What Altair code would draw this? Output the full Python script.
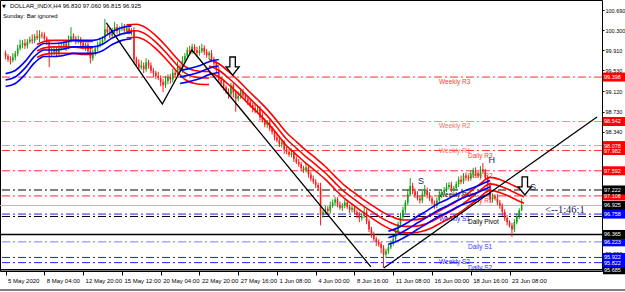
import altair as alt
import pandas as pd

# ---------------- data ----------------
first_open = 99.86
closes = [
    99.80, 99.74, 99.72, 99.78, 99.85, 99.95, 100.02, 100.05, 100.00, 100.08,
    100.12, 100.10, 100.18, 100.15, 100.22, 100.20, 100.14, 100.08, 99.84, 99.88,
    99.93, 99.86, 99.95, 100.00, 100.04, 99.98, 100.10, 100.18, 100.14, 100.08,
    100.12, 100.05, 99.98, 100.02, 99.90, 99.76, 99.85, 99.95, 100.02, 100.06,
    100.12, 100.32, 100.26, 100.20, 100.30, 100.36, 100.28, 100.32, 100.36, 100.30,
    100.34, 100.26, 100.30, 99.74, 99.66, 99.58, 99.62, 99.55, 99.68, 99.62,
    99.52, 99.48, 99.42, 99.38, 99.30, 99.24, 99.32, 99.40, 99.35, 99.48,
    99.44, 99.58, 99.54, 99.72, 99.80, 99.92, 99.88, 99.98, 99.92, 99.86,
    99.90, 99.96, 99.88, 99.82, 99.86, 99.74, 99.66, 99.54, 99.34, 99.28,
    99.20, 99.12, 99.06, 99.24, 99.10, 98.98, 99.04, 99.12, 99.05, 98.98,
    98.92, 98.86, 98.80, 98.74, 98.78, 98.62, 98.56, 98.48, 98.52, 98.40,
    98.34, 98.24, 98.18, 98.10, 98.14, 98.00, 97.96, 97.90, 97.94, 97.82,
    97.76, 97.72, 97.64, 97.60, 97.66, 97.52, 97.44, 97.38, 97.32, 97.26,
    96.74, 96.80, 96.86, 96.82, 96.92, 96.98, 97.04, 96.94, 96.88, 96.92,
    96.98, 96.90, 96.84, 96.88, 96.80, 96.74, 96.68, 96.72, 96.80, 96.62,
    96.46, 96.36, 96.28, 96.22, 96.18, 96.10, 95.98, 96.04, 96.12, 96.20,
    96.28, 96.42, 96.56, 96.70, 96.84, 96.98, 97.14, 97.30, 97.20, 97.12,
    97.06, 97.02, 97.14, 97.22, 97.12, 97.06, 96.98, 96.92, 97.02, 97.12,
    97.18, 97.22, 97.28, 97.32, 97.24, 97.26, 97.34, 97.42, 97.38, 97.50,
    97.46, 97.44, 97.52, 97.60, 97.54, 97.50, 97.62, 97.58, 97.46, 97.32,
    97.04, 97.10, 97.06, 96.98, 96.92, 96.80, 96.68, 96.60, 96.54, 96.46,
    96.60, 96.72, 96.83, 96.925]

upper_wick = [
    .05, .04, .06, .08, .05, .07, .10, .06, .08, .05,
    .06, .10, .05, .12, .08, .05, .06, .04, .05, .08,
    .06, .05, .09, .05, .07, .06, .10, .18, .06, .05,
    .08, .05, .06, .04, .05, .06, .08, .05, .06, .10,
    .06, .20, .06, .08, .05, .10, .06, .05, .08, .06,
    .05, .06, .04, .06, .05, .08, .10, .06, .08, .05,
    .06, .05, .04, .08, .05, .06, .10, .05, .06, .08,
    .05, .12, .06, .08, .06, .05, .08, .06, .05, .06,
    .10, .08, .05, .06, .04, .06, .05, .04, .05, .06,
    .05, .04, .06, .05, .04, .05, .08, .06, .05, .04,
    .06, .05, .04, .08, .05, .06, .10, .04, .05, .06,
    .05, .04, .06, .08, .05, .04, .06, .05, .08, .04,
    .05, .06, .04, .05, .08, .04, .05, .06, .05, .04,
    .10, .04, .06, .05, .08, .06, .05, .04, .06, .05,
    .06, .05, .04, .08, .05, .04, .06, .05, .10, .05,
    .04, .05, .06, .04, .05, .04, .06, .05, .06, .05,
    .04, .06, .05, .08, .06, .05, .10, .15, .06, .05,
    .08, .05, .06, .10, .05, .06, .05, .04, .06, .08,
    .05, .06, .08, .05, .06, .04, .05, .06, .08, .05,
    .06, .05, .08, .05, .06, .04, .06, .12, .05, .04,
    .05, .06, .04, .08, .05, .04, .05, .06, .04, .05,
    .06, .05, .04, .135]

lower_wick = [
    .06, .05, .08, .04, .06, .05, .04, .07, .06, .05,
    .04, .06, .05, .04, .08, .06, .05, .06, .25, .05,
    .06, .08, .05, .04, .06, .08, .05, .04, .06, .05,
    .04, .06, .05, .08, .06, .10, .05, .04, .06, .05,
    .05, .04, .06, .05, .04, .06, .05, .08, .04, .06,
    .05, .04, .06, .08, .06, .05, .04, .08, .05, .06,
    .05, .08, .06, .04, .08, .13, .05, .06, .08, .05,
    .06, .04, .05, .06, .04, .05, .06, .04, .05, .06,
    .05, .04, .06, .05, .08, .04, .06, .05, .06, .08,
    .06, .05, .08, .04, .10, .25, .05, .06, .04, .05,
    .06, .05, .08, .04, .05, .06, .04, .05, .06, .04,
    .05, .06, .04, .05, .06, .08, .05, .04, .05, .06,
    .04, .05, .06, .05, .04, .06, .05, .04, .06, .05,
    .20, .05, .04, .06, .05, .04, .06, .05, .04, .06,
    .05, .04, .06, .05, .04, .06, .08, .05, .04, .06,
    .05, .06, .04, .08, .05, .10, .26, .06, .05, .04,
    .05, .04, .06, .05, .04, .06, .05, .04, .06, .05,
    .04, .06, .05, .04, .06, .05, .04, .06, .05, .04,
    .05, .06, .04, .05, .06, .05, .04, .06, .05, .04,
    .06, .05, .04, .06, .05, .04, .06, .05, .04, .06,
    .05, .06, .04, .05, .06, .08, .05, .06, .04, .14,
    .05, .04, .06, .015]

# envelope (moving-average band) middle lines, sampled along the bars
band_half_width = 0.125
blue1_bars = [0, 4, 8, 12, 16, 20, 24, 28, 32, 36, 40, 44, 48, 52]
blue1_mid = [99.34, 99.40, 99.57, 99.80, 99.92, 99.92, 99.94, 99.98, 99.98, 99.98, 100.03, 100.15, 100.23, 100.26]
red0_bars = [13, 16, 20, 24, 28, 32, 36]
red0_mid = [99.90, 99.96, 99.98, 99.98, 99.98, 99.96, 99.96]
red1_bars = [50, 54, 58, 62, 66, 70, 74, 78, 82, 84]
red1_mid = [100.28, 100.29, 100.22, 100.07, 99.88, 99.67, 99.48, 99.40, 99.38, 99.38]
blue2_bars = [72, 76, 80, 84, 88]
blue2_mid = [99.40, 99.44, 99.49, 99.57, 99.61]
red2_bars = [84, 88, 92, 96, 100, 104, 108, 112, 116, 120, 124, 128, 132, 136, 140, 144, 148,
             152, 156, 160, 164, 168, 172, 176, 180, 184, 188, 192, 196, 200, 204, 208, 212, 214]
red2_mid = [99.61, 99.53, 99.38, 99.21, 99.02, 98.84, 98.65, 98.43, 98.20, 98.03, 97.86, 97.71, 97.55,
            97.36, 97.18, 97.04, 96.90, 96.78, 96.66, 96.57, 96.52, 96.52, 96.55, 96.62, 96.72, 96.82,
            96.93, 97.07, 97.22, 97.34, 97.30, 97.22, 97.13, 97.09]
blue3_bars = [158, 162, 166, 170, 174, 178, 182, 186, 190, 194, 198, 200]
blue3_mid = [96.30, 96.37, 96.47, 96.59, 96.70, 96.82, 96.91, 97.01, 97.09, 97.16, 97.24, 97.28]

# zigzag / trend lines
zig1_bars = [41.6, 64.7, 76.9, 150.8]
zig1_price = [100.44, 98.88, 99.92, 95.74]
zig2_bars = [156.1, 244.1]
zig2_price = [95.72, 98.63]

# pivot levels
level_names = ["Weekly R3", "Weekly R2", "Weekly R1", "Daily R3", "Daily R2", "Weekly Pivot",
               "Daily R1", "Weekly S1", "Daily Pivot", "Daily S1", "Weekly S2", "Daily S2"]
level_prices = [99.398, 98.542, 98.078, 97.982, 97.592, 97.222, 97.108, 96.758, 96.711, 96.223, 95.922, 95.822]
level_kind = ["R", "Rw", "Rw", "R", "R", "P", "R", "S", "P", "Sw", "S", "S"]

solid_prices = [96.365, 95.685]
bid_price = 96.925

box_prices = [99.398, 98.542, 98.078, 97.982, 97.592, 97.222, 97.108, 96.925, 96.758, 96.365, 96.223, 95.922, 95.822, 95.685]
box_kind = ["R", "R", "R", "R", "R", "P", "R", "P", "S", "P", "S", "S", "S", "P"]

price_ticks = [100.690, 100.300, 99.910, 99.530, 99.120, 98.730, 98.340, 97.950, 97.560, 97.170,
               96.780, 96.390, 95.990, 95.590]
tick_bars = [0, 16, 32, 48, 64, 80, 96, 112, 128, 144, 160, 176, 192, 208]
tick_labels = ["5 May 2020", "8 May 04:00", "12 May 20:00", "15 May 12:00", "20 May 04:00",
               "22 May 20:00", "27 May 16:00", "1 Jun 08:00", "4 Jun 00:00", "8 Jun 16:00",
               "11 Jun 08:00", "16 Jun 00:00", "18 Jun 16:00", "23 Jun 08:00"]

pattern_text = ["S", "H", "S"]
pattern_bars = [171.5, 200.7, 217.7]
pattern_price = [97.39, 97.80, 97.28]

arrow_bars = [93.7, 214.3]
arrow_price = [99.61, 97.30]

header_line1 = "DOLLAR_INDX,H4  96.830 97.060 96.815 96.925"
header_line2 = "Sunday: Bar ignored"
timer_text = "<--1:46:1"
timer_price = 96.84

# ---------------- tables ----------------
n = len(closes)
assert len(upper_wick) == n and len(lower_wick) == n
opens = [first_open] + closes[:-1]
candles = pd.DataFrame({
    "bar": list(range(n)),
    "open": opens,
    "close": closes,
})
candles["high"] = [max(o, c) + w for o, c, w in zip(opens, closes, upper_wick)]
candles["low"] = [min(o, c) - w for o, c, w in zip(opens, closes, lower_wick)]
candles["dir"] = ["up" if c >= o else "down" for o, c in zip(opens, closes)]

env_rows = []
for seg, col, bars, mids in [("r0", "red", red0_bars, red0_mid), ("r1", "red", red1_bars, red1_mid),
                             ("r2", "red", red2_bars, red2_mid), ("b1", "blue", blue1_bars, blue1_mid),
                             ("b2", "blue", blue2_bars, blue2_mid), ("b3", "blue", blue3_bars, blue3_mid)]:
    for b, m in zip(bars, mids):
        for k, off in [("u", band_half_width), ("m", 0.0), ("l", -band_half_width)]:
            env_rows.append({"bar": b, "price": m + off, "line": seg + k, "col": col})
env = pd.DataFrame(env_rows)

zig = pd.DataFrame({"bar": zig1_bars + zig2_bars, "price": zig1_price + zig2_price,
                    "seg": ["a"] * len(zig1_bars) + ["b"] * len(zig2_bars)})

levels = pd.DataFrame({"name": level_names, "price": level_prices, "kind": level_kind})
levels["weekly"] = levels["name"].str.startswith("Weekly")

boxes = pd.DataFrame({"price": box_prices, "kind": box_kind})
boxes["label"] = [f"{p:.3f}" for p in box_prices]
boxes = boxes.sort_values("price").reset_index(drop=True)

patterns = pd.DataFrame({"bar": pattern_bars, "price": pattern_price, "t": pattern_text})
arrows = pd.DataFrame({"bar": arrow_bars, "price": arrow_price})

# ---------------- encodings ----------------
FONT = "Liberation Sans"
xs = alt.Scale(domain=[-0.24, 244.1], nice=False, zero=False)
ys = alt.Scale(domain=[95.661, 100.883], nice=False, zero=False)

label_expr = ("[" + ",".join(f"'{t}'" for t in tick_labels) + "][indexof(["
              + ",".join(str(b) for b in tick_bars) + "], datum.value)]")
x_axis = alt.Axis(orient="bottom", values=tick_bars, labelExpr=label_expr, labelAlign="left",
                  labelOffset=2, tickSize=4, tickColor="black", labelPadding=2, labelFont=FONT,
                  labelFontSize=6, labelColor="black", domain=False, grid=False, labelOverlap=False,
                  labelBound=False, labelFlush=False, title=None)
y_axis = alt.Axis(orient="right", values=price_ticks, format=".3f", labelFont=FONT, labelFontSize=5.5,
                  labelColor="black", tickColor="black", tickSize=2, labelPadding=1, domain=False,
                  grid=False, labelBound=False, labelOverlap=False, labelFlush=False, title=None)


def X(f="bar"):
    return alt.X(f"{f}:Q", scale=xs, axis=x_axis)


def Y(f="price"):
    return alt.Y(f"{f}:Q", scale=ys, axis=y_axis)


LINE_COLORS = {"R": "#ff2a2a", "Rw": "#ff8c8c", "P": "#000000", "S": "#2020ff", "Sw": "#7a7aff"}
TEXT_COLORS = {"R": "#ff3a3a", "Rw": "#ff6a6a", "P": "#000000", "S": "#2828ff", "Sw": "#3c3cff"}
BOX_COLORS = {"R": "#ff0000", "P": "#000000", "S": "#0000ff"}
BAND_COLORS = {"red": "#ff0000", "blue": "#0000ff"}
CANDLE_COLORS = {"up": "#16a016", "down": "#ff1a1a"}

levels["lc"] = levels["kind"].map(LINE_COLORS)
levels["tc"] = levels["kind"].map(TEXT_COLORS)
boxes["bc"] = boxes["kind"].map(BOX_COLORS)
env["c"] = env["col"].map(BAND_COLORS)
candles["c"] = candles["dir"].map(CANDLE_COLORS)

# ---------------- layers ----------------
level_lines = alt.Chart(levels).mark_rule(strokeWidth=1, strokeDash=[8, 3, 2, 3]).encode(
    y=Y("price"), color=alt.Color("lc:N", scale=None))

solid_lines = alt.Chart(pd.DataFrame({"price": solid_prices})).mark_rule(
    strokeWidth=1.6, color="black").encode(y=Y("price"))

bid_line = alt.Chart(pd.DataFrame({"price": [bid_price]})).mark_rule(
    strokeWidth=1, color="#b8b8b8").encode(y=Y("price"))

level_text_w = alt.Chart(levels).transform_filter("datum.weekly").mark_text(
    align="left", baseline="middle", dy=5, font=FONT, fontSize=6.5).encode(
    x=alt.value(439), y=Y("price"), text="name:N", color=alt.Color("tc:N", scale=None))
level_text_d = alt.Chart(levels).transform_filter("!datum.weekly").mark_text(
    align="left", baseline="middle", dy=5, font=FONT, fontSize=6.5).encode(
    x=alt.value(468), y=Y("price"), text="name:N", color=alt.Color("tc:N", scale=None))

wicks = alt.Chart(candles).mark_rule(strokeWidth=1).encode(
    x=X(), y=Y("low"), y2="high", color=alt.Color("c:N", scale=None))
bodies = alt.Chart(candles).mark_bar(size=1.6).encode(
    x=X(), y=Y("open"), y2="close", color=alt.Color("c:N", scale=None))

bands = alt.Chart(env).mark_line(strokeWidth=1.6, interpolate="monotone").encode(
    x=X(), y=Y("price"), detail="line:N", color=alt.Color("c:N", scale=None))

zig_lines = alt.Chart(zig).mark_line(strokeWidth=1.3, color="black").encode(
    x=X(), y=Y("price"), detail="seg:N")

pattern_marks = alt.Chart(patterns).mark_text(font=FONT, fontSize=9, color="#1c2a5a").encode(
    x=X(), y=Y("price"), text="t:N")

arrow_shape = "M-0.3,-1L0.3,-1L0.3,0.1L0.72,0.1L0,1L-0.72,0.1L-0.3,0.1Z"
arrow_marks = alt.Chart(arrows).mark_point(shape=arrow_shape, size=330, filled=True, fill="white",
                                           stroke="black", strokeWidth=1.3, opacity=1).encode(
    x=X(), y=Y("price"))

timer = alt.Chart(pd.DataFrame({"price": [timer_price], "t": [timer_text]})).mark_text(
    align="left", baseline="middle", font="Liberation Serif", fontSize=10.5, color="#1a1a50").encode(
    x=alt.value(545), y=Y("price"), text="t:N")

box_rects = alt.Chart(boxes).mark_rect(yOffset=-4.5, y2Offset=4.5).encode(
    x=alt.value(603), x2=alt.value(625), y=Y("price"), y2="price",
    color=alt.Color("bc:N", scale=None))
box_text = alt.Chart(boxes).mark_text(align="left", baseline="middle", font=FONT, fontSize=5.5,
                                      color="white").encode(
    x=alt.value(604), y=Y("price"), text="label:N")

header1 = alt.Chart(pd.DataFrame({"t": [header_line1]})).mark_text(
    align="left", baseline="middle", font=FONT, fontSize=6, color="black").encode(
    x=alt.value(10), y=alt.value(6), text="t:N")
header_tri = alt.Chart(pd.DataFrame({"t": ["\u25bc"]})).mark_text(
    align="left", baseline="middle", font="DejaVu Sans", fontSize=5, color="black").encode(
    x=alt.value(2), y=alt.value(6), text="t:N")
header2 = alt.Chart(pd.DataFrame({"t": [header_line2]})).mark_text(
    align="left", baseline="middle", font=FONT, fontSize=6, color="black").encode(
    x=alt.value(3), y=alt.value(16), text="t:N")

bottom_border = alt.Chart(pd.DataFrame({"v": [0]})).mark_rule(color="black", strokeWidth=1).encode(
    x=alt.value(0), x2=alt.value(625), y=alt.value(290))

chart = alt.layer(
    level_lines, solid_lines, bid_line, level_text_w, level_text_d,
    wicks, bodies, bands, zig_lines, pattern_marks, arrow_marks, timer,
    box_rects, box_text, header_tri, header1, header2, bottom_border,
).properties(
    width=602, height=271,
    padding={"left": 0, "top": 0, "right": 23, "bottom": 21},
    autosize=alt.AutoSizeParams(type="none"),
    background="white",
).configure_view(stroke="black", strokeWidth=1)

chart.save("out.html", embed_options={"renderer": "svg", "actions": False})
